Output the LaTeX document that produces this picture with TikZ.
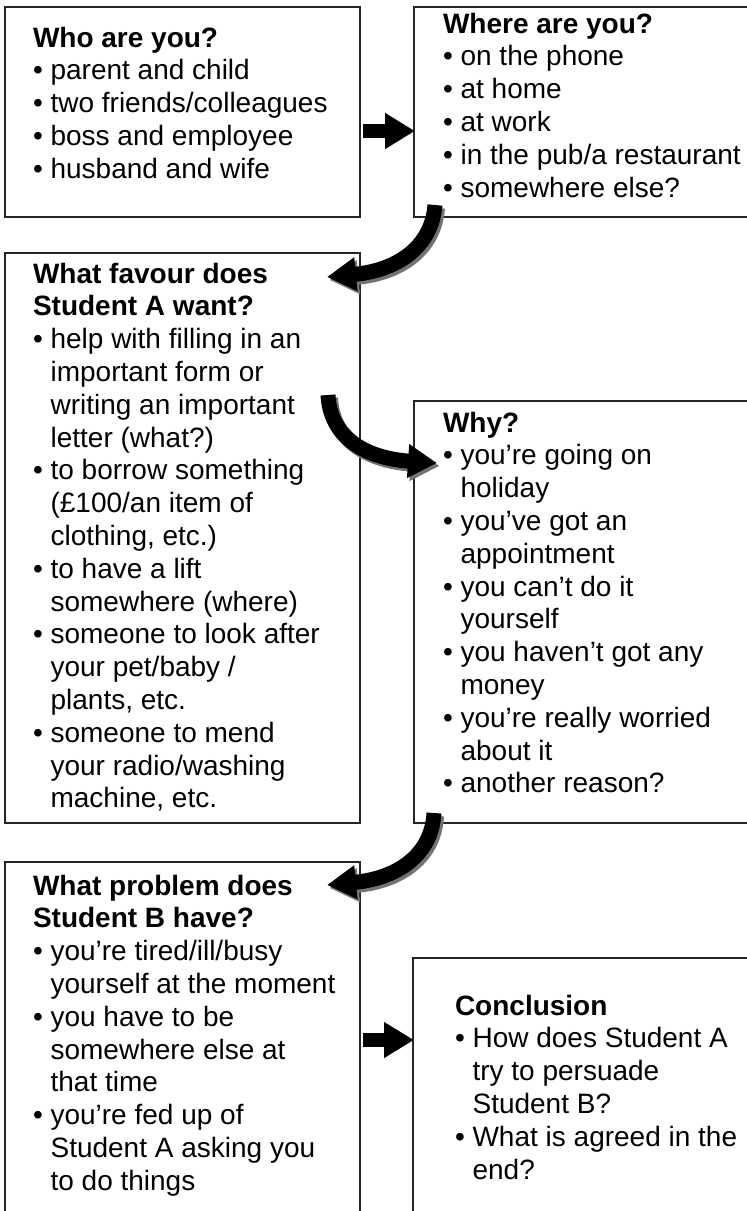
\documentclass[tikz,border=0pt]{standalone}
\usepackage{fontspec}
\setmainfont{Liberation Sans}
\usetikzlibrary{arrows.meta}
\newcommand{\myb}{\textbullet\ }
\newcommand{\myi}{\hphantom{\textbullet\ }}
\newcommand{\mystrut}{\rule{0pt}{21pt}}
\begin{document}
\begin{tikzpicture}[x=1pt,y=-1pt,
  box/.style={draw=black!85, line width=1.3pt, rectangle, inner sep=0pt, outer sep=0pt, anchor=north west},
  txt/.style={anchor=north west, inner sep=0pt, outer sep=0pt, align=left, font=\fontsize{28pt}{32.8pt}\selectfont},
  blockarrow/.style={line width=14pt, -{Triangle[length=30pt,width=34pt]}},
  bendarrow/.style={line width=15pt, -{Triangle[length=29pt,width=32pt]}},
  shadowed/.style={draw=black!55, transform canvas={xshift=2.5pt,yshift=-3pt}}]
\useasboundingbox (0,0) rectangle (747,1211);
\clip (0,0) rectangle (747,1211);
\fill[white] (0,0) rectangle (747,1211);

% boxes
\node[box, minimum width=355pt, minimum height=210pt] (b1) at (5,7) {};
\node[box, minimum width=360pt, minimum height=210pt] (b2) at (414,7) {};
\node[box, minimum width=355pt, minimum height=570pt] (b3) at (5,253) {};
\node[box, minimum width=360pt, minimum height=422pt] (b4) at (414,401) {};
\node[box, minimum width=355pt, minimum height=400pt] (b5) at (5,862) {};
\node[box, minimum width=360pt, minimum height=300pt] (b6) at (413,958) {};

% texts (north west = first baseline - 21)
\node[txt] (t1) at (33,26) {\mystrut\textbf{Who are you?}\\
\myb parent and child\\
\myb two friends/colleagues\\
\myb boss and employee\\
\myb husband and wife};

\node[txt] (t2) at (443,12) {\mystrut\textbf{Where are you?}\\
\myb on the phone\\
\myb at home\\
\myb at work\\
\myb in the pub/a restaurant\\
\myb somewhere else?};

\node[txt] (t3) at (33,262) {\mystrut\textbf{What favour does}\\
\textbf{Student A want?}\\
\myb help with filling in an\\
\myi important form or\\
\myi writing an important\\
\myi letter (what?)\\
\myb to borrow something\\
\myi (£100/an item of\\
\myi clothing, etc.)\\
\myb to have a lift\\
\myi somewhere (where)\\
\myb someone to look after\\
\myi your pet/baby /\\
\myi plants, etc.\\
\myb someone to mend\\
\myi your radio/washing\\
\myi machine, etc.};

\node[txt] (t4) at (443,411) {\mystrut\textbf{Why?}\\
\myb you’re going on\\
\myi holiday\\
\myb you’ve got an\\
\myi appointment\\
\myb you can’t do it\\
\myi yourself\\
\myb you haven’t got any\\
\myi money\\
\myb you’re really worried\\
\myi about it\\
\myb another reason?};

\node[txt] (t5) at (33,874) {\mystrut\textbf{What problem does}\\
\textbf{Student B have?}\\
\myb you’re tired/ill/busy\\
\myi yourself at the moment\\
\myb you have to be\\
\myi somewhere else at\\
\myi that time\\
\myb you’re fed up of\\
\myi Student A asking you\\
\myi to do things};

\node[txt] (t6) at (455,994) {\mystrut\textbf{Conclusion}\\
\myb How does Student A\\
\myi try to persuade\\
\myi Student B?\\
\myb What is agreed in the\\
\myi end?};

% straight arrows
\coordinate (a1s) at (363,131);
\coordinate (a1e) at (415,131);
\coordinate (a4s) at (363,1040);
\coordinate (a4e) at (414,1040);
\draw[blockarrow] (a1s) -- (a1e);
\draw[blockarrow] (a4s) -- (a4e);

% curved arrows with shadow
\coordinate (c1s) at (435,205);
\coordinate (c1e) at (327,277);
\draw[bendarrow, shadowed] (c1s) .. controls (432,245) and (400,270) .. (c1e);
\draw[bendarrow] (c1s) .. controls (432,245) and (400,270) .. (c1e);

\coordinate (c2s) at (328,395);
\coordinate (c2e) at (437,463);
\draw[bendarrow, shadowed] (c2s) .. controls (330,435) and (362,458) .. (c2e);
\draw[bendarrow] (c2s) .. controls (330,435) and (362,458) .. (c2e);

\coordinate (c3s) at (434,813);
\coordinate (c3e) at (327,885);
\draw[bendarrow, shadowed] (c3s) .. controls (432,853) and (400,878) .. (c3e);
\draw[bendarrow] (c3s) .. controls (432,853) and (400,878) .. (c3e);
\end{tikzpicture}
\end{document}
